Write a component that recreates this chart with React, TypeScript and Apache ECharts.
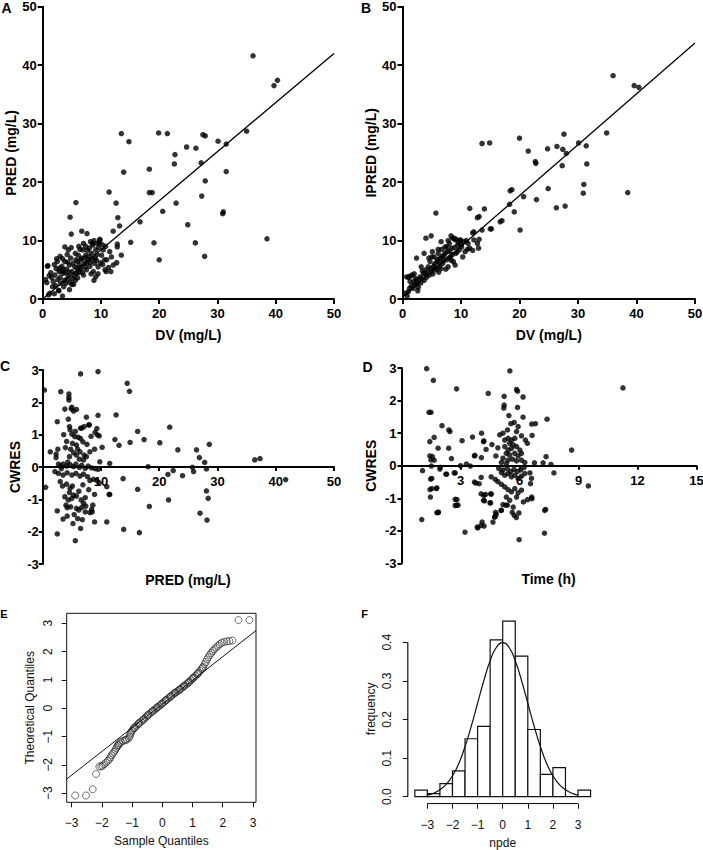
import React, { useEffect, useRef } from 'react';
import * as echarts from 'echarts';

const FONT = '"Liberation Sans", Arial, Helvetica, sans-serif';

// Panel A: DV vs PRED
const panelA: number[][] = [
  [36.1,41.6],[39.7,36.5],[40.3,37.4],[35.0,28.7],[38.5,10.3],[13.5,28.3],[14.8,26.9],[13.9,21.7],[19.9,28.4],[21.4,28.3],
  [24.7,26.0],[26.3,25.8],[22.7,24.7],[22.6,23.1],[18.3,22.2],[18.3,18.2],[18.8,18.2],[27.5,28.1],[27.9,27.9],[30.1,27.0],
  [31.5,26.5],[27.2,23.3],[27.9,20.2],[31.5,21.8],[27.3,17.6],[22.9,16.4],[20.6,15.0],[31.0,14.9],[30.9,14.6],[24.9,12.7],
  [26.2,9.6],[27.8,7.3],[19.1,9.6],[20.0,6.7],[16.7,13.2],[15.1,9.7],[11.4,18.3],[12.6,16.4],[12.9,13.9],[13.2,12.5],
  [12.1,11.6],[12.8,9.4],[12.8,8.9],[13.5,7.5],[12.1,5.8],[12.7,6.2],[5.7,16.5],[4.7,14.0],[4.9,11.1],[6.7,11.6],[7.6,11.2],[0.9,5.7],
  [0.8,5.6],[0.7,2.8],[1.5,3.7],[1.4,4.5],[2.5,6.4],[2.3,5.2],[2.1,4.1],[2.8,4.7],[3.0,3.7],[3.1,2.7],[3.3,5.6],[3.5,4.4],
  [3.8,6.4],[3.7,3.2],[4.1,5.1],[4.4,3.9],[4.6,5.8],[4.8,7.0],[5.0,4.7],[5.1,3.5],[5.3,2.5],[5.5,5.5],[5.7,6.7],[5.8,4.4],
  [6.1,7.5],[6.3,5.8],[6.4,5.0],[6.7,7.0],[6.9,8.4],[7.0,4.1],[7.1,6.1],[7.4,7.5],[7.5,5.0],[7.8,6.7],[8.0,8.7],[8.1,5.6],
  [8.4,7.8],[8.6,9.5],[8.7,4.7],[8.8,3.2],[9.0,7.0],[9.1,8.4],[9.4,9.5],[9.5,5.5],[9.8,10.1],[10.1,7.5],[10.4,8.4],[10.7,5.0],
  [11.0,6.7],[11.5,8.1],[11.8,7.2],[11.7,4.7],[1.25,1.0],[2.7,1.5],[3.4,0.5],[1.0,0.7],[2.8,1.4],
  [3.8,8.9],[4.9,8.8],[4.4,8.4],[6.4,8.5],[7.7,8.3],[8.6,9.2],[8.8,10.0],[9.8,10.2],[9.7,9.6],[10.6,6.7],[10.9,4.7],[9.1,3.8],[5.0,2.5],
  [1.8,3.0],[2.0,5.9],[2.6,3.3],[2.9,5.3],[3.2,4.8],[3.6,5.0],[3.9,4.5],[4.2,3.4],[4.3,6.3],[4.5,4.6],[4.7,2.9],[5.2,6.1],
  [5.4,4.0],[5.6,3.2],[5.9,5.3],[6.0,6.4],[6.2,4.5],[6.5,6.7],[6.6,5.4],[6.8,4.6],[7.2,7.0],[7.3,5.5],[7.6,6.2],[7.9,7.3],
  [8.2,6.3],[8.3,4.3],[8.5,6.9],[8.9,6.1],[9.2,6.6],[9.3,7.6],[9.6,8.8],[9.9,6.2],[10.2,9.3],[10.3,5.9],[3.4,6.9],[2.2,2.3],
  [1.7,2.1],[4.0,2.7],[6.0,3.6],[7.4,9.0],[5.6,7.8],[4.2,7.6],[3.0,7.3],[2.4,6.9],[1.1,4.0],[0.5,3.3],[8.2,9.8],[7.0,9.5],
  [6.2,9.0],[10.8,9.0],[11.3,5.4],[9.5,4.3],[3.6,2.1],[4.6,1.6],[2.0,0.9]
];
const lineA: number[][] = [[0, 0], [50, 42]];

// Panel B: DV vs IPRED
const panelB: number[][] = [
  [36.0,38.2],[39.6,36.5],[40.4,36.2],[34.9,28.4],[38.5,18.2],[13.6,26.6],[14.9,26.7],[20.0,27.5],[21.5,25.3],[24.8,25.7],
  [26.4,26.1],[27.6,28.2],[27.4,25.6],[28.0,24.9],[30.1,26.7],[31.4,26.2],[31.5,23.1],[27.3,22.8],[22.7,23.5],[22.8,23.2],
  [18.7,18.7],[18.4,18.5],[20.7,17.5],[18.3,16.2],[19.1,14.9],[22.9,17.0],[24.9,18.9],[26.3,15.6],[27.8,15.9],[31.0,19.6],
  [30.9,18.1],[20.1,11.8],[17.0,13.4],[15.2,12.0],[13.6,11.8],[14.0,15.4],[11.5,15.5],[12.8,13.9],[13.1,14.1],[12.2,11.5],
  [5.7,14.7],[4.9,10.8],[4.0,10.4],[2.4,7.0],[1.3,3.9],[1.0,3.7],
  [0.7,3.8],[1.6,4.1],[1.3,3.0],[2.1,2.4],[1.0,1.25],[1.8,1.8],[2.4,3.2],[2.7,2.0],[3.0,3.8],[3.1,2.7],[3.6,4.4],[3.7,3.2],
  [4.0,5.0],[4.1,3.7],[4.4,5.5],[4.6,4.1],[4.7,6.4],[5.0,4.7],[5.3,5.6],[5.4,7.2],[5.8,5.0],[5.9,6.4],[6.1,7.8],[6.3,5.6],
  [6.5,7.0],[6.7,8.5],[6.9,6.1],[7.1,7.5],[7.3,8.9],[7.5,6.7],[7.7,8.1],[7.8,5.5],[8.0,9.5],[8.2,7.2],[8.4,8.7],[8.6,10.4],
  [8.7,6.4],[9.0,10.1],[9.1,7.8],[9.4,9.2],[9.7,8.4],[9.9,10.1],[10.3,7.2],[10.1,8.9],[10.7,8.1],[11.2,9.5],[12.2,10.1],
  [12.8,9.5],[12.0,11.3],[15.0,12.0],[16.7,13.2],
  [3.7,7.8],[5.0,7.2],[6.1,8.5],[7.6,8.9],[8.8,10.4],[9.2,10.2],[9.9,10.0],[11.1,8.5],[11.5,8.7],[12.0,8.3],[13.1,10.2],[13.0,8.7],
  [0.5,1.0],[0.8,0.5],[1.5,2.2],[1.9,2.9],[2.2,3.5],[2.5,2.6],[2.8,3.3],[3.3,3.5],[3.4,4.8],[3.9,4.2],[4.3,4.5],[4.8,5.2],
  [5.2,4.3],[5.5,6.0],[5.6,5.3],[6.0,6.8],[6.4,6.2],[6.6,5.2],[6.8,7.3],[7.0,6.6],[7.3,7.9],[7.9,7.0],[8.1,8.2],[8.3,6.6],
  [8.5,7.6],[8.9,8.8],[9.3,8.0],[9.6,9.6],[10.0,9.3],[10.5,9.8],[10.9,10.0],[9.0,5.8],[7.4,5.1],[6.2,4.6],[2.0,4.3],[4.5,7.0],
  [5.1,8.1],[6.6,9.8],[7.8,10.0],[8.3,10.8],[3.2,5.5],[1.2,1.8],[2.6,1.4]
];
const lineB: number[][] = [[0, 0.3], [50, 43.8]];

// Panel C: PRED vs CWRES
const panelC: number[][] = [
  [0.3,2.38],[6.5,2.88],[9.5,2.95],[3.1,2.33],[4.5,2.26],[4.5,2.15],[4.5,2.07],[14.5,2.59],[14.9,2.34],[3.8,1.79],[5.0,1.85],
  [5.8,1.78],[4.4,1.48],[7.5,1.54],[9.5,1.60],[12.6,1.61],[2.5,1.40],[4.6,1.25],[6.5,1.2],[7.9,1.3],[9.3,1.19],[21.8,1.23],
  [16.3,1.10],[17.4,0.85],[12.4,0.85],[13.1,0.67],[15.0,0.76],[20.1,0.75],[23.2,0.53],[26.4,0.53],[26.9,0.29],[27.8,0.14],
  [28.6,0.70],[36.4,0.22],[37.3,0.26],[1.3,0.47],[2.3,0.40],[2.3,0.29],[9.8,0.16],[11.5,0.11],[18.1,0.01],[25.7,-0.01],
  [28.1,-0.06],[22.4,-0.11],[21.5,-0.23],[24.0,-0.27],[25.9,-0.14],[13.8,-0.36],[0.5,-0.63],[11.0,-0.61],[11.5,-0.85],
  [16.3,-0.69],[28.1,-0.74],[28.4,-0.97],[21.6,-1.02],[18.3,-1.22],[27.0,-1.43],[28.2,-1.64],[41.7,-0.39],
  [2.5,-1.36],[3.5,-1.61],[4.2,-1.26],[4.2,-1.52],[5.4,-1.47],[6.2,-1.33],[6.5,-1.90],[6.8,-1.63],[7.3,-1.39],[8.5,-1.39],
  [8.9,-1.70],[11.0,-1.70],[2.5,-2.07],[5.6,-2.28],[13.9,-1.93],[16.6,-2.03],
  [4.9,1.80],[5.3,1.73],[6.7,1.20],[7.1,1.25],[8.0,1.30],[4.7,1.15],[5.0,1.02],[9.0,1.07],[9.4,0.99],[9.7,0.96],[5.5,0.94],
  [6.1,0.92],[6.5,0.88],[6.9,0.78],[4.1,0.79],[5.1,0.73],[5.8,0.68],[10.2,0.61],[8.9,0.55],[4.8,0.55],[5.3,0.44],[5.8,0.37],
  [6.4,0.47],[7.1,0.37],[7.5,0.32],[8.1,0.47],[4.6,0.32],[6.3,0.24],[7.0,0.22],[2.7,0.09],[3.1,0.03],[3.5,0.09],[4.1,0.03],
  [4.7,0.07],[5.3,0.01],[5.7,0.09],[6.3,-0.01],[6.7,0.05],[7.3,-0.04],[7.8,0.03],[8.4,-0.03],[9.0,-0.05],[9.5,-0.07],
  [2.1,-0.14],[2.7,-0.20],[3.5,-0.25],[4.2,-0.18],[5.0,-0.25],[5.7,-0.20],[6.4,-0.28],[7.0,-0.22],[7.7,-0.30],[8.1,-0.42],
  [8.7,-0.38],[9.3,-0.42],[9.7,-0.49],[11.4,-0.85],[3.0,-0.45],[3.4,-0.59],[4.1,-0.53],[4.7,-0.66],[5.1,-0.59],[4.6,-0.79],
  [5.3,-0.87],[3.8,-0.92],[4.4,-1.02],[5.0,-0.97],[5.8,-0.90],[4.0,-1.18],[4.8,-1.23],[6.6,-1.02],[7.0,-1.12],[7.4,-1.21],
  [6.7,-1.25],[8.6,-1.18],[8.4,-1.31],[8.1,-1.41],[5.8,-1.28],
  [3.9,0.6],[5.6,1.1],[6.0,0.55],[7.6,0.7],[8.3,0.95],[4.3,0.15],[6.9,-0.55],[7.9,-0.7],[6.2,-0.75],[8.9,-0.85],[7.3,-0.95],
  [6.0,-1.6],[5.2,-1.75],[3.2,-0.05],[2.6,0.55],[3.6,1.0]
];

// Panel D: Time vs CWRES
const panelD: number[][] = [
  [1.28,2.98],[1.62,2.62],[5.51,2.91],[2.80,2.36],[4.41,2.22],[5.85,2.34],[5.9,2.29],[5.22,2.13],[6.18,2.11],[5.22,1.86],
  [5.2,1.77],[5.9,1.79],[1.4,1.64],[1.5,1.64],[5.46,1.54],[6.18,1.49],[7.4,1.43],[11.26,2.39],[2.06,1.23],[2.41,1.10],
  [2.46,1.05],[1.66,0.87],[1.44,0.74],[4.07,1.0],[3.61,0.88],[3.08,0.77],[4.17,0.74],[6.62,1.28],[6.64,0.93],[1.86,0.54],
  [2.40,0.54],[2.54,0.22],[3.73,0.32],[1.44,0.30],[1.5,0.18],[8.65,0.48],[7.35,0.28],[7.2,0.09],[7.6,0.04],[6.76,0.09],
  [1.07,-0.15],[1.95,-0.10],[2.29,-0.26],[2.73,-0.22],[3.78,-0.53],[3.95,-0.55],[7.75,-0.22],[9.5,-0.62],[1.48,-0.41],
  [1.77,-0.70],[1.45,-0.73],[1.47,-0.96],[1.8,-1.44],[2.73,-1.03],[2.73,-1.22],[4.05,-0.86],[4.27,-0.88],[4.53,-0.86],
  [4.17,-1.06],[4.5,-1.14],[7.28,-1.37],[6.63,-1.01],[1.03,-1.65],
  [4.99,0.95],[5.16,1.0],[5.39,1.1],[5.56,1.29],[5.73,1.33],[5.93,1.2],[5.85,1.05],[6.1,0.92],[6.3,0.79],[6.4,0.69],[6.81,1.29],
  [4.19,0.76],[5.25,0.79],[5.42,0.84],[5.59,0.79],[5.76,0.84],[5.5,0.69],[5.68,0.64],[5.25,0.59],[5.42,0.48],[5.59,0.53],
  [5.85,0.59],[6.02,0.48],[5.33,0.38],[5.5,0.33],[5.76,0.38],[5.93,0.30],[6.1,0.38],[5.16,0.23],[5.42,0.17],[5.64,0.2],
  [5.85,0.15],[6.1,0.17],[6.27,0.1],[5.08,0.1],[5.33,0.07],[3.71,0.3],[4.06,0.25],[1.57,0.28],[1.66,0.17],[1.52,-0.01],
  [1.97,-0.05],[2.26,-0.26],[2.68,-0.22],[3.71,-0.5],[4.05,-0.36],[4.56,-0.34],[4.77,-0.42],[4.9,-0.49],[5.08,-0.57],
  [5.25,-0.65],[5.42,-0.73],[5.59,-0.80],[5.76,-0.7],[5.93,-0.83],[6.1,-0.75],[5.85,-0.96],[5.08,-0.21],[5.25,-0.29],
  [5.42,-0.24],[5.59,-0.34],[5.76,-0.29],[5.93,-0.39],[6.1,-0.32],[6.27,-0.24],[6.53,-0.22],[4.94,-0.08],[5.16,-0.13],
  [5.38,-0.08],[5.55,-0.18],[5.72,-0.11],[5.89,-0.18],[6.06,-0.13],[6.23,-0.05],[6.61,-0.39],[6.56,-0.55],[1.54,-0.39],
  [1.54,-0.70],[1.8,-0.68],[2.82,-1.04],[2.82,-1.21],[1.86,-1.44],[4.19,-0.91],[4.57,-0.87],[4.22,-1.08],[4.53,-1.14],
  [5.33,-0.96],[5.5,-1.06],[5.16,-1.19],[5.38,-1.21],[5.08,-1.37],[4.82,-1.49],[4.74,-1.57],[4.65,-1.73],[5.68,-1.27],
  [5.73,-1.52],[5.97,-1.45],[6.2,-1.11],[6.41,-1.04],[6.62,-0.96],[3.85,-1.88],[4.05,-1.83],[3.23,-2.04],[5.98,-2.27],[7.27,-2.07],
  [1.88,-1.42],[2.87,-1.21],[3.88,-1.91],[4.1,-1.73],[4.2,-1.85],[4.75,-1.57],[4.78,-1.43],[5.06,-1.37],[5.3,-1.21],
  [5.63,-1.43],[5.84,-1.59],[7.33,-1.34],[3.0,0.0],[3.3,0.05],[3.5,-0.01],[4.3,0.5],[4.6,0.65],[4.8,0.3],[4.9,0.55]
];

// Panel E: QQ plot (sample quantile, theoretical quantile)
const panelE: number[][] = [
  [-2.88,-3.08],[-2.52,-3.08],[-2.30,-2.86],[-2.19,-2.32],[-2.08,-2.06],[-2.02,-2.05],[-1.97,-2.03],[-1.92,-1.98],
  [-1.86,-1.92],[-1.80,-1.86],[-1.75,-1.80],[-1.71,-1.73],[-1.68,-1.66],[-1.63,-1.60],[-1.59,-1.54],[-1.55,-1.47],
  [-1.52,-1.41],[-1.49,-1.35],[-1.46,-1.29],[-1.42,-1.24],[-1.37,-1.19],[-1.30,-1.16],[-1.24,-1.13],[-1.17,-1.10],
  [-1.11,-1.06],[-1.08,-1.00],[-1.06,-0.93],[-1.04,-0.87],[-1.01,-0.81],[-0.98,-0.76],[-0.94,-0.71],[-0.90,-0.66],
  [-0.85,-0.62],[-0.80,-0.57],[-0.75,-0.52],[-0.70,-0.47],[-0.65,-0.42],[-0.60,-0.37],[-0.55,-0.32],[-0.50,-0.28],
  [-0.45,-0.23],[-0.40,-0.18],[-0.35,-0.13],[-0.30,-0.09],[-0.25,-0.05],[-0.20,-0.01],[-0.15,0.04],[-0.10,0.08],
  [-0.05,0.12],[0.00,0.17],[0.05,0.21],[0.10,0.26],[0.15,0.30],[0.20,0.35],[0.25,0.39],[0.30,0.44],[0.35,0.48],
  [0.40,0.52],[0.45,0.56],[0.50,0.60],[0.55,0.64],[0.60,0.68],[0.65,0.72],[0.70,0.76],[0.75,0.80],[0.80,0.85],
  [0.85,0.89],[0.90,0.94],[0.95,0.99],[1.00,1.04],[1.05,1.09],[1.10,1.14],[1.15,1.20],[1.20,1.26],[1.25,1.32],
  [1.30,1.38],[1.35,1.46],[1.40,1.55],[1.44,1.63],[1.48,1.72],[1.52,1.80],[1.57,1.88],[1.62,1.95],[1.67,2.02],
  [1.72,2.08],[1.78,2.14],[1.84,2.20],[1.90,2.26],[1.97,2.31],[2.05,2.34],[2.14,2.36],[2.22,2.37],[2.32,2.39],
  [2.52,3.11],[2.88,3.11],
  [-0.92,-0.70],[-0.78,-0.53],[-0.62,-0.40],[-0.48,-0.24],[-0.32,-0.10],[-0.18,0.03],[-0.02,0.16],[0.12,0.29],
  [0.28,0.41],[0.42,0.55],[0.58,0.65],[0.72,0.79],[0.88,0.91],[1.02,1.07],[1.18,1.22],[1.33,1.42],[-1.21,-1.12],[-1.45,-1.31]
];
const lineE: number[][] = [[-3.16, -2.50], [3.10, 2.74]];

// Panel F: histogram of npde
const binStart: number[] = [-3.5,-3,-2.5,-2,-1.5,-1,-0.5,0,0.5,1,1.5,2,2.5,3];
const binFreq: number[] = [0.017,0.008,0.034,0.067,0.150,0.182,0.406,0.455,0.364,0.174,0.058,0.075,0,0.017];
const curveX: number[] = [-3,-2.75,-2.5,-2.25,-2,-1.75,-1.5,-1.25,-1,-0.75,-0.5,-0.25,0,0.25,0.5,0.75,1,1.25,1.5,1.75,2,2.25,2.5,2.75,3];
const curveY: number[] = [0.004,0.009,0.018,0.032,0.054,0.086,0.130,0.183,0.242,0.301,0.352,0.387,0.399,0.387,0.352,0.301,0.242,0.183,0.130,0.086,0.054,0.032,0.018,0.009,0.004];

const ticksR: number[] = [-3,-2,-1,0,1,2,3];
const ticksFreq: number[] = [0,0.1,0.2,0.3,0.4];

const BIN_W = 0.5;
const E_X = [-3.16, 3.10];
const E_Y = [-3.32, 3.35];
const F_X = [-3.78, 3.78];
const F_Y = [-0.0182, 0.4732];

const gpLine = { show: true, onZero: false, lineStyle: { color: '#000', width: 2 } };
const gpTick = { show: true, length: 5, lineStyle: { color: '#000', width: 2 } };
const gpLabel = (extra: any = {}) => ({ color: '#000', fontFamily: FONT, fontWeight: 'bold', fontSize: 13, ...extra });
const gpName = { color: '#000', fontFamily: FONT, fontWeight: 'bold', fontSize: 14 };
const rLabel = (extra: any = {}) => ({ color: '#111', fontFamily: FONT, fontSize: 12, ...extra });
const rName = { color: '#111', fontFamily: FONT, fontSize: 12 };
const minus = (v: number) => String(v).replace('-', '\u2212');
const rTick = (vals: number[]) => ({ show: true, length: 5, customValues: vals, lineStyle: { color: '#111', width: 1 } });

function buildOption() {
  const GC = { left: 42.7, top: 370, width: 291.3, height: 194 };
  const GD = { left: 401.5, top: 368, width: 295, height: 195.5 };
  const grids = [
    { left: 42.7, top: 6.7, width: 291.3, height: 292.3 },
    { left: 402.5, top: 6.7, width: 292.5, height: 292.3 },
    GC,
    GD,
    { left: 66.7, top: 613.3, width: 189.3, height: 189, show: true, borderColor: '#111', borderWidth: 1, backgroundColor: 'rgba(0,0,0,0)' },
    { left: 407.8, top: 614, width: 189.8, height: 189.7 },
  ].map((g) => ({ containLabel: false, outerBoundsMode: 'none', ...g }));

  const xAxis: any[] = [
    { gridIndex: 0, type: 'value', min: 0, max: 50, interval: 10, axisLine: gpLine, axisTick: gpTick,
      axisLabel: gpLabel({ margin: 8 }), splitLine: { show: false },
      name: 'DV (mg/L)', nameLocation: 'middle', nameGap: 29, nameTextStyle: gpName },
    { gridIndex: 1, type: 'value', min: 0, max: 50, interval: 10, axisLine: gpLine, axisTick: gpTick,
      axisLabel: gpLabel({ margin: 8 }), splitLine: { show: false },
      name: 'DV (mg/L)', nameLocation: 'middle', nameGap: 29, nameTextStyle: gpName },
    { gridIndex: 2, type: 'value', min: 0, max: 50, interval: 10, axisLine: gpLine, axisTick: { ...gpTick, length: 4 },
      offset: -GC.height / 2,
      axisLabel: gpLabel({ margin: 8, showMinLabel: false }), splitLine: { show: false } },
    { gridIndex: 3, type: 'value', min: 0, max: 15, interval: 3, axisLine: gpLine, axisTick: { ...gpTick, length: 4 },
      offset: -GD.height / 2,
      axisLabel: gpLabel({ margin: 8, showMinLabel: false }), splitLine: { show: false } },
    { gridIndex: 4, type: 'value', min: E_X[0], max: E_X[1], axisLine: { show: false, onZero: false },
      axisTick: rTick(ticksR),
      axisLabel: rLabel({ margin: 15, customValues: ticksR, formatter: minus }), splitLine: { show: false },
      name: 'Sample Quantiles', nameLocation: 'middle', nameGap: 33, nameTextStyle: rName },
    { gridIndex: 5, type: 'value', min: F_X[0], max: F_X[1], axisLine: { show: false, onZero: false },
      axisTick: rTick(ticksR),
      axisLabel: rLabel({ margin: 15, customValues: ticksR, formatter: minus }), splitLine: { show: false },
      name: 'npde', nameLocation: 'middle', nameGap: 33, nameTextStyle: rName },
  ];

  const yAxis: any[] = [
    { gridIndex: 0, type: 'value', min: 0, max: 50, interval: 10, axisLine: gpLine, axisTick: gpTick,
      axisLabel: gpLabel({ margin: 6 }), splitLine: { show: false },
      name: 'PRED (mg/L)', nameLocation: 'middle', nameGap: 19, nameTextStyle: gpName },
    { gridIndex: 1, type: 'value', min: 0, max: 50, interval: 10, axisLine: gpLine, axisTick: gpTick,
      axisLabel: gpLabel({ margin: 6 }), splitLine: { show: false },
      name: 'IPRED (mg/L)', nameLocation: 'middle', nameGap: 19, nameTextStyle: gpName },
    { gridIndex: 2, type: 'value', min: -3, max: 3, interval: 1, axisLine: gpLine, axisTick: { ...gpTick, length: 4 },
      axisLabel: gpLabel({ margin: 4 }), splitLine: { show: false },
      name: 'CWRES', nameLocation: 'middle', nameGap: 21, nameTextStyle: gpName },
    { gridIndex: 3, type: 'value', min: -3, max: 3, interval: 1, axisLine: gpLine, axisTick: { ...gpTick, length: 4 },
      axisLabel: gpLabel({ margin: 5 }), splitLine: { show: false },
      name: 'CWRES', nameLocation: 'middle', nameGap: 24, nameTextStyle: gpName },
    { gridIndex: 4, type: 'value', min: E_Y[0], max: E_Y[1], axisLine: { show: false, onZero: false },
      axisTick: rTick(ticksR),
      axisLabel: rLabel({ margin: 13, rotate: 90, customValues: ticksR, formatter: minus }), splitLine: { show: false },
      name: 'Theoretical Quantiles', nameLocation: 'middle', nameGap: 31, nameTextStyle: rName },
    { gridIndex: 5, type: 'value', min: F_Y[0], max: F_Y[1], axisLine: { show: false, onZero: false },
      axisTick: rTick(ticksFreq),
      axisLabel: rLabel({ margin: 15, rotate: 90, customValues: ticksFreq, formatter: (v: number) => v.toFixed(1) }),
      splitLine: { show: false },
      name: 'frequency', nameLocation: 'middle', nameGap: 31, nameTextStyle: rName },
  ];

  const dot = (i: number, data: number[][]) => ({
    type: 'scatter', xAxisIndex: i, yAxisIndex: i, data, symbol: 'circle', symbolSize: 5.5,
    itemStyle: { color: '#000' }, silent: true, z: 3,
  });
  const seg = (i: number, data: number[][], width = 1.2, color = '#000') => ({
    type: 'line', xAxisIndex: i, yAxisIndex: i, data, symbol: 'none', silent: true,
    lineStyle: { color, width }, z: 4,
  });

  const bars = binStart.map((s, k) => [s, s + BIN_W, binFreq[k]]);
  const curve = curveX.map((x, k) => [x, curveY[k]]);

  const series: any[] = [
    dot(0, panelA), seg(0, lineA, 1.3),
    dot(1, panelB), seg(1, lineB, 1.3),
    dot(2, panelC),
    dot(3, panelD),
    { type: 'scatter', xAxisIndex: 4, yAxisIndex: 4, data: panelE, symbol: 'circle', symbolSize: 7, silent: true,
      itemStyle: { color: 'rgba(0,0,0,0)', borderColor: '#222', borderWidth: 0.8 }, z: 3 },
    seg(4, lineE, 1, '#111'),
    { type: 'custom', xAxisIndex: 5, yAxisIndex: 5, data: bars, silent: true, encode: { x: [0, 1], y: 2 },
      renderItem: (params: any, api: any) => {
        const p0 = api.coord([api.value(0), 0]);
        const p1 = api.coord([api.value(1), api.value(2)]);
        return { type: 'rect', shape: { x: p0[0], y: p1[1], width: p1[0] - p0[0], height: p0[1] - p1[1] },
          style: { fill: '#fff', stroke: '#111', lineWidth: 1.2 } };
      } },
    { type: 'line', xAxisIndex: 5, yAxisIndex: 5, data: curve, smooth: true, symbol: 'none', silent: true,
      lineStyle: { color: '#111', width: 1.2 }, z: 5 },
    seg(5, [[ticksR[0], F_Y[0]], [ticksR[ticksR.length - 1], F_Y[0]]], 1.2, '#111'),
    seg(5, [[F_X[0], ticksFreq[0]], [F_X[0], ticksFreq[ticksFreq.length - 1]]], 1.2, '#111'),
  ];

  const letter = (t: string, x: number, y: number, size: number) => ({
    type: 'text', x, y, silent: true,
    style: { text: t, fill: '#000', font: `bold ${size}px ${FONT}`, align: 'center', verticalAlign: 'middle',
      textAlign: 'center', textVerticalAlign: 'middle' },
  });
  const title = (t: string, x: number, y: number) => ({
    type: 'text', x, y, silent: true,
    style: { text: t, fill: '#000', font: `bold 14px ${FONT}`, align: 'center', verticalAlign: 'middle',
      textAlign: 'center', textVerticalAlign: 'middle' },
  });

  return {
    animation: false,
    backgroundColor: '#fff',
    textStyle: { fontFamily: FONT },
    grid: grids,
    xAxis,
    yAxis,
    series,
    graphic: [
      letter('A', 6.5, 8, 14), letter('B', 366, 8, 14), letter('C', 5, 366, 14), letter('D', 367.5, 367, 14),
      letter('E', 4, 614, 11), letter('F', 364.5, 613.5, 11),
      title('PRED (mg/L)', 188, 580), title('Time (h)', 548.5, 579),
    ],
  };
}

export default function App() {
  const ref = useRef<HTMLDivElement>(null);
  useEffect(() => {
    if (!ref.current) return;
    const chart = echarts.init(ref.current, null, { renderer: 'svg' });
    chart.setOption(buildOption() as any);
    return () => chart.dispose();
  }, []);
  return (
    <div
      ref={ref}
      style={{ position: 'fixed', left: 0, top: 0, width: 703, height: 850, background: '#fff' }}
    />
  );
}
